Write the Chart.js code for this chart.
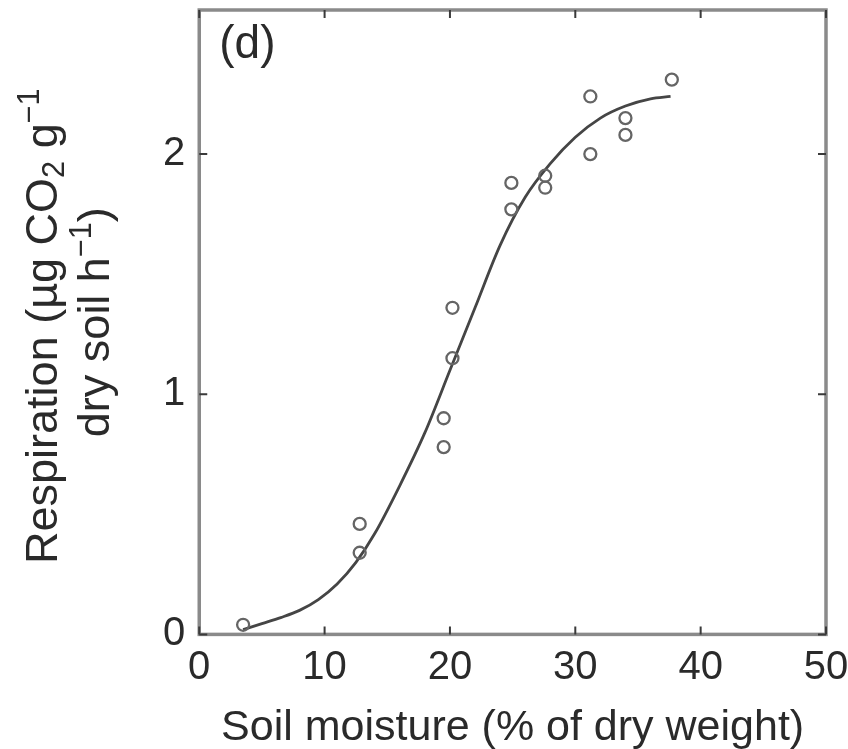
<!DOCTYPE html>
<html>
<head>
<meta charset="utf-8">
<script src="https://cdn.jsdelivr.net/npm/chart.js@4/dist/chart.umd.min.js"></script>
<style>
html,body{margin:0;padding:0;background:#fff;}
#wrap{width:848px;height:749px;}
</style>
</head>
<body>
<div id="wrap"><canvas id="c" width="848" height="749"></canvas></div>
<script>
// Observed data (circles)
const moistureObs    = [3.5, 12.8, 12.8, 19.5, 19.5, 20.2, 20.2, 24.9, 24.9, 27.6, 27.6, 31.2, 31.2, 34.0, 34.0, 37.7];
const respirationObs = [0.04, 0.46, 0.34, 0.90, 0.78, 1.36, 1.15, 1.88, 1.77, 1.91, 1.86, 2.24, 2.00, 2.15, 2.08, 2.31];
// Fitted curve
const fitMoisture    = [3.5, 5, 6.5, 8, 9.5, 11, 12.5, 14, 16, 18, 20, 22, 24, 26, 28, 30, 32, 34, 36, 37.6];
const fitRespiration = [0.02, 0.045, 0.07, 0.10, 0.145, 0.21, 0.30, 0.42, 0.62, 0.84, 1.10, 1.36, 1.62, 1.82, 1.96, 2.07, 2.15, 2.20, 2.23, 2.24];
// Axes
const xTickValues = [0, 10, 20, 30, 40, 50];
const yTickValues = [0, 1, 2];
const xLabel = 'Soil moisture (% of dry weight)';
const yLabelLine1 = [['Respiration (\u00b5g CO',''],['2','sub'],[' g',''],['\u22121','sup']];
const yLabelLine2 = [['dry soil h',''],['\u22121','sup'],[')','']];
const panelLabel = '(d)';

const FONT = '"Liberation Sans", Arial, Helvetica, sans-serif';
const TEXT = '#2a2a2a';

const obsPoints = moistureObs.map((v,i)=>({x:v, y:respirationObs[i]}));
const fitPoints = fitMoisture.map((v,i)=>({x:v, y:fitRespiration[i]}));

function drawRich(ctx, segs, size, cx, cy){
  const parts = segs.map(([t,k])=>{
    const fs = k ? size*0.68 : size;
    ctx.font = fs + 'px ' + FONT;
    return {t, k, fs, w: ctx.measureText(t).width};
  });
  const total = parts.reduce((s,p)=>s+p.w,0);
  let x = cx - total/2;
  ctx.textAlign = 'left';
  ctx.textBaseline = 'alphabetic';
  for (const p of parts){
    ctx.font = p.fs + 'px ' + FONT;
    let dy = 0;
    if (p.k==='sub') dy = size*0.16;
    if (p.k==='sup') dy = -size*0.40;
    ctx.fillText(p.t, x, cy+dy);
    x += p.w;
  }
}

const framePlugin = {
  id:'frame',
  beforeDatasetsDraw(chart){
    const {ctx, chartArea:a, scales:{x, y}} = chart;
    ctx.save();
    ctx.strokeStyle = '#8a8a8a';
    ctx.lineWidth = 3.5;
    ctx.strokeRect(a.left, a.top, a.right-a.left, a.bottom-a.top);
    ctx.strokeStyle = '#3a3a3a';
    ctx.lineWidth = 2;
    const L = 8;
    ctx.beginPath();
    for (const t of x.ticks){
      const px = x.getPixelForValue(t.value);
      ctx.moveTo(px, a.bottom); ctx.lineTo(px, a.bottom-L);
      ctx.moveTo(px, a.top); ctx.lineTo(px, a.top+L);
    }
    for (const t of y.ticks){
      const py = y.getPixelForValue(t.value);
      ctx.moveTo(a.left, py); ctx.lineTo(a.left+L, py);
      ctx.moveTo(a.right, py); ctx.lineTo(a.right-L, py);
    }
    ctx.stroke();
    ctx.restore();
  },
  afterDraw(chart){
    const {ctx, chartArea:a} = chart;
    ctx.save();
    ctx.fillStyle = TEXT;
    ctx.font = '46px ' + FONT;
    ctx.textAlign='left'; ctx.textBaseline='alphabetic';
    ctx.fillText(panelLabel, a.left+20, a.top+48);
    const cy = (a.top+a.bottom)/2;
    ctx.translate(57, cy);
    ctx.rotate(-Math.PI/2);
    drawRich(ctx, yLabelLine1, 45, -4, 0);
    drawRich(ctx, yLabelLine2, 45, 0, 52);
    ctx.restore();
  }
};

new Chart(document.getElementById('c'), {
  type:'scatter',
  data:{
    datasets:[
      {
        label:'fit',
        data: fitPoints,
        showLine:true,
        borderColor:'#454545',
        borderWidth:2.8,
        pointRadius:0,
        cubicInterpolationMode:'monotone',
        fill:false,
        order:2
      },
      {
        label:'observed',
        data: obsPoints,
        showLine:false,
        pointStyle:'circle',
        pointRadius:6,
        pointBorderWidth:2.3,
        pointBorderColor:'#656565',
        pointBackgroundColor:'rgba(255,255,255,0)',
        order:1
      }
    ]
  },
  options:{
    responsive:false,
    animation:false,
    devicePixelRatio:1,
    layout:{padding:{left:149, top:10, right:22, bottom:-5}},
    plugins:{legend:{display:false}, tooltip:{enabled:false}},
    scales:{
      x:{
        type:'linear', min:0, max:50,
        afterBuildTicks(s){ s.ticks = xTickValues.map(v=>({value:v})); },
        afterFit(s){ s.paddingLeft = 0; s.paddingRight = 0; },
        ticks:{font:{size:40, family:FONT}, color:TEXT, padding:10, maxRotation:0, includeBounds:false},
        grid:{display:false, drawTicks:false},
        border:{display:false},
        title:{display:true, text:xLabel, font:{size:43, family:FONT}, color:TEXT, padding:{top:0,bottom:0}}
      },
      y:{
        type:'linear', min:0, max:2.6,
        afterBuildTicks(s){ s.ticks = yTickValues.map(v=>({value:v})); },
        afterFit(s){ s.paddingTop = 0; s.paddingBottom = 0; },
        ticks:{font:{size:40, family:FONT}, color:TEXT, padding:14, includeBounds:false},
        grid:{display:false, drawTicks:false},
        border:{display:false}
      }
    }
  },
  plugins:[framePlugin]
});
</script>
</body>
</html>
